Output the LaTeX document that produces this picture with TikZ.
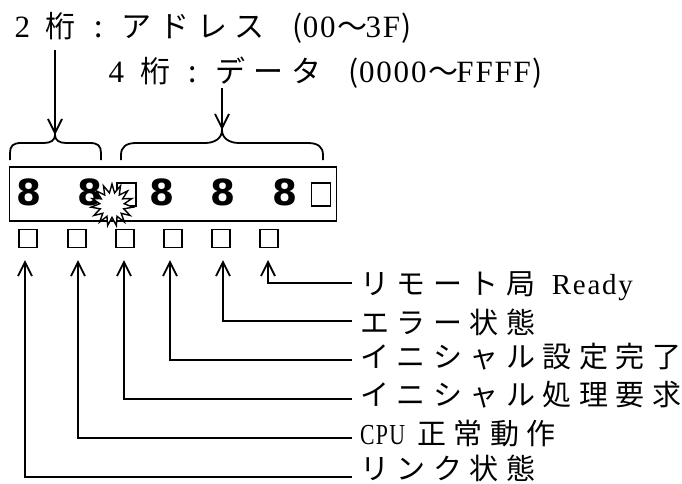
\documentclass[tikz,border=0pt]{standalone}
\usepackage{fontspec}
\usepackage{graphicx}
\usetikzlibrary{arrows.meta,shapes.geometric}
\newfontfamily\jpf[LetterSpace=26,Kerning=Off]{Noto Sans CJK JP}
\newfontfamily\jpn[Kerning=Off]{Noto Sans CJK JP}
\newfontfamily\laf[LetterSpace=6]{Liberation Serif}
\newfontfamily\dgf{DejaVu Sans}
\newcommand\TJ[1]{{\jpf\fontsize{30pt}{36pt}\selectfont #1}\hspace{7.8pt}}
\newcommand\TL[1]{{\laf\fontsize{31pt}{36pt}\selectfont #1}\hspace{1.86pt}}
\newcommand\FW[1]{\makebox[30pt]{\TL{#1}}\hspace{7.8pt}}
\newcommand\PC[3]{\makebox[30pt][#1]{\jpn\fontsize{30pt}{36pt}\selectfont #2}\hspace{#3}}
\newcommand\BJ[1]{{\jpf\fontsize{29pt}{35pt}\selectfont #1}\hspace{7.54pt}}
\newcommand\BL[1]{{\laf\fontsize{29pt}{35pt}\selectfont #1}\hspace{1.74pt}}
\begin{document}
\begin{tikzpicture}[x=1pt,y=-1pt,
  ln/.style={line width=1.8pt},
  arr/.style={line width=1.8pt,-{Straight Barb[length=14pt,width=14pt]}},
  digit/.style={inner sep=0pt,font={\dgf\bfseries\fontsize{36pt}{42pt}\selectfont}},
  insq/.style={draw,line width=1.3pt,minimum width=19pt,minimum height=23pt,inner sep=0pt},
  led/.style={draw,line width=1.8pt,minimum size=18pt,inner sep=0pt},
  lbl/.style={anchor=west,inner xsep=8pt,inner ysep=0pt,text height=23.5pt,text depth=1.5pt},
  ttl/.style={anchor=base west,inner sep=0pt}]
\useasboundingbox (0,0) rectangle (682,483);

% titles
\node[ttl] (t1) at (8,37) {\FW{2}\TJ{桁}\PC{c}{:}{7.8pt}\TJ{アドレス}\PC{r}{(}{0pt}\TL{00}\PC{c}{〜}{-2pt}\TL{3F}\PC{l}{)}{0pt}};
\node[ttl] (t2) at (102,82) {\FW{4}\TJ{桁}\PC{c}{:}{7.8pt}\TJ{データ}\PC{r}{(}{0pt}\TL{0000}\PC{c}{〜}{-2pt}\TL{FFFF}\PC{l}{)}{0pt}};

\coordinate (s1) at (55,50);
\coordinate (b1tip) at (55,135);
\coordinate (s2) at (222,88);
\coordinate (b2tip) at (222,130);
\draw[arr] (s1) -- (b1tip);
\draw[arr] (s2) -- (b2tip);

% braces
\draw[ln] (10,160) -- (10,153) .. controls (10,146) and (13,143) .. (21,143) -- (44,143)
  .. controls (51,143) and (55,140) .. (b1tip)
  .. controls (55,140) and (59,143) .. (66,143) -- (90,143)
  .. controls (98,143) and (101,146) .. (101,153) -- (101,160);
\draw[ln] (121,160) -- (121,155) .. controls (121,147) and (126,143) .. (136,143) -- (205,143)
  .. controls (215,143) and (222,138) .. (b2tip)
  .. controls (222,138) and (229,143) .. (239,143) -- (308,143)
  .. controls (318,143) and (323,147) .. (323,155) -- (323,160);

% display
\node[draw,line width=1.8pt,minimum width=327pt,minimum height=54pt,inner sep=0pt] (disp) at (173,193.7) {};
\node[digit] (d1) at (29,192.5) {8};
\node[digit] (d2) at (90,192.5) {8};
\node[digit] (d3) at (162,192.5) {8};
\node[digit] (d4) at (223,192.5) {8};
\node[digit] (d5) at (285,192.5) {8};
\node[insq] (sq1) at (126.5,194.5) {};
\node[insq] (sq2) at (321,194.5) {};
\node[star,star points=15,star point ratio=1.7,minimum size=42pt,draw,fill=white,line width=1.4pt,inner sep=0pt] (burst) at (112,205) {};

% LEDs
\node[led] (e1) at (28,238.5) {};
\node[led] (e2) at (77,238.5) {};
\node[led] (e3) at (125,238.5) {};
\node[led] (e4) at (173,238.5) {};
\node[led] (e5) at (221,238.5) {};
\node[led] (e6) at (269,238.5) {};

\coordinate (a1) at (268,260);
\coordinate (a2) at (223,260);
\coordinate (a3) at (170,260);
\coordinate (a4) at (124,260);
\coordinate (a5) at (78,260);
\coordinate (a6) at (25,260);

% labels
\node[lbl] (l1) at (352,283) {\BJ{リモート局}\BL{\ Ready}};
\node[lbl] (l2) at (352,322) {\BJ{エラー状態}};
\node[lbl] (l3) at (352,356) {\BJ{イニシャル設定完了}};
\node[lbl] (l4) at (352,394) {\BJ{イニシャル処理要求}};
\node[lbl] (l5) at (352,433) {\scalebox{0.75}[1]{\BL{CPU}}\BL{\ }\BJ{正常動作}};
\node[lbl] (l6) at (352,468) {\BJ{リンク状態}};

\draw[arr] (l1.west) -| (a1);
\draw[arr] ([yshift=1pt]l2.west) -| (a2);
\draw[arr] ([yshift=-4pt]l3.west) -| (a3);
\draw[arr] ([yshift=-5pt]l4.west) -| (a4);
\draw[arr] ([yshift=-5pt]l5.west) -| (a5);
\draw[arr] ([yshift=-9pt]l6.west) -| (a6);
\end{tikzpicture}
\end{document}
